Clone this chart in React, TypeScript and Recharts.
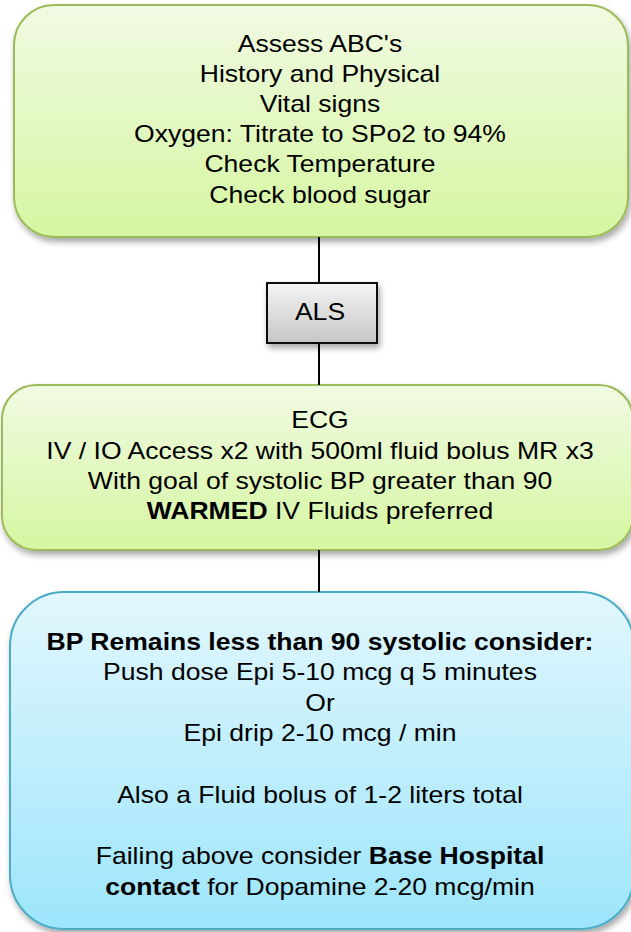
import React from "react";
import { ComposedChart, XAxis, YAxis, ReferenceArea, ReferenceLine, Scatter } from "recharts";

const W = 631;
const H = 932;

// flowchart boxes, in page units (x right, y down)
const boxIds = ["assess", "als", "ecg", "bp"];
const boxX1 = [14, 267, 2, 10];
const boxX2 = [628, 377, 633, 634];
const boxY1 = [5, 283, 385, 592];
const boxY2 = [237, 343, 550, 929];

// connector segments on the centre line
const linkX = 319;
const linkY1 = [237, 343, 550];
const linkY2 = [283, 385, 592];

// text lines: [centre y, parts]; parts marked with * are bold
const textLines: { y: number; parts: string[] }[] = [
  { y: 44, parts: ["Assess ABC's"] },
  { y: 74, parts: ["History and Physical"] },
  { y: 104, parts: ["Vital signs"] },
  { y: 134, parts: ["Oxygen: Titrate to SPo2 to 94%"] },
  { y: 164, parts: ["Check Temperature"] },
  { y: 195, parts: ["Check blood sugar"] },
  { y: 312, parts: ["ALS"] },
  { y: 420, parts: ["ECG"] },
  { y: 451, parts: ["IV / IO Access x2 with 500ml fluid bolus MR x3"] },
  { y: 481, parts: ["With goal of systolic BP greater than 90"] },
  { y: 511, parts: ["*WARMED", " IV Fluids preferred"] },
  { y: 642, parts: ["*BP Remains less than 90 systolic consider:"] },
  { y: 672, parts: ["Push dose Epi 5-10 mcg q 5 minutes"] },
  { y: 703, parts: ["Or"] },
  { y: 733, parts: ["Epi drip 2-10 mcg / min"] },
  { y: 795, parts: ["Also a Fluid bolus of 1-2 liters total"] },
  { y: 856, parts: ["Failing above consider ", "*Base Hospital"] },
  { y: 887, parts: ["*contact", " for Dopamine 2-20 mcg/min"] },
];

const boxStyle: Record<string, { grad: string; stroke: string; r: number; sw: number }> = {
  assess: { grad: "gGreen", stroke: "#9bbb59", r: 40, sw: 2 },
  als: { grad: "gGrey", stroke: "#111", r: 0, sw: 2 },
  ecg: { grad: "gGreen", stroke: "#9bbb59", r: 34, sw: 2 },
  bp: { grad: "gBlue", stroke: "#4bacc6", r: 54, sw: 2 },
};

const textData = textLines.map((l) => ({ x: 320, y: l.y, parts: l.parts }));

function BoxShape(props: any) {
  const { x, y, width, height, id } = props;
  const s = boxStyle[id];
  return (
    <rect
      x={x}
      y={y}
      width={width}
      height={height}
      rx={s.r}
      ry={s.r}
      fill={`url(#${s.grad})`}
      stroke={s.stroke}
      strokeWidth={s.sw}
      filter="url(#shadow)"
    />
  );
}

// the original text is set wide, so stretch it horizontally
function TextShape(props: any) {
  const { cx, cy, payload } = props;
  return (
    <text
      x={0}
      y={0}
      transform={`translate(${cx},${cy}) scale(1.155,1)`}
      textAnchor="middle"
      dominantBaseline="central"
      style={{ fontFamily: "'Liberation Sans', Arial, sans-serif" }}
      fontSize={23}
      fill="#000"
    >
      {payload.parts.map((p: string, i: number) =>
        p.startsWith("*") ? (
          <tspan key={i} fontWeight="bold">{p.slice(1)}</tspan>
        ) : (
          <tspan key={i}>{p}</tspan>
        )
      )}
    </text>
  );
}

export default function App() {
  return (
    <div style={{ position: "absolute", left: 0, top: 0, width: W, height: H, background: "#fff" }}>
      <ComposedChart width={W} height={H} margin={{ top: 0, right: 0, bottom: 0, left: 0 }} data={textData}>
        <defs>
          <linearGradient id="gGreen" x1="0" y1="0" x2="0" y2="1">
            <stop offset="0%" stopColor="#f1fae3" />
            <stop offset="100%" stopColor="#d5f6a1" />
          </linearGradient>
          <linearGradient id="gBlue" x1="0" y1="0" x2="0" y2="1">
            <stop offset="0%" stopColor="#e2f7fd" />
            <stop offset="100%" stopColor="#9de5fb" />
          </linearGradient>
          <linearGradient id="gGrey" x1="0" y1="0" x2="0" y2="1">
            <stop offset="0%" stopColor="#f4f4f4" />
            <stop offset="100%" stopColor="#c6c6c6" />
          </linearGradient>
          <filter id="shadow" x="-10%" y="-10%" width="130%" height="130%">
            <feDropShadow dx="2" dy="4" stdDeviation="3" floodColor="#000" floodOpacity="0.35" />
          </filter>
        </defs>
        <XAxis type="number" dataKey="x" domain={[0, W]} hide allowDataOverflow />
        <YAxis type="number" dataKey="y" domain={[0, H]} reversed hide allowDataOverflow />
        {linkY1.map((y1, i) => (
          <ReferenceLine
            key={`l${i}`}
            segment={[{ x: linkX, y: y1 }, { x: linkX, y: linkY2[i] }]}
            stroke="#000"
            strokeWidth={2}
            ifOverflow="visible"
          />
        ))}
        {boxIds.map((id, i) => (
          <ReferenceArea
            key={id}
            x1={boxX1[i]}
            x2={boxX2[i]}
            y1={boxY1[i]}
            y2={boxY2[i]}
            ifOverflow="visible"
            shape={(p: any) => <BoxShape {...p} id={id} />}
          />
        ))}
        <Scatter dataKey="y" isAnimationActive={false} shape={(p: any) => <TextShape {...p} />} />
      </ComposedChart>
    </div>
  );
}
